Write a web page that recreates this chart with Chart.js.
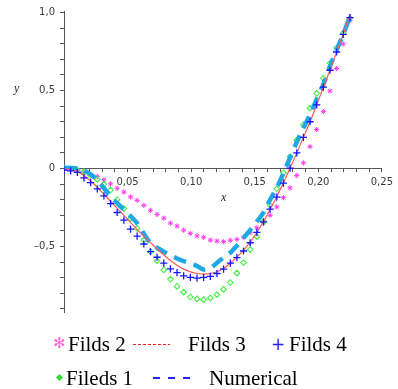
<!DOCTYPE html>
<html>
<head>
<meta charset="utf-8">
<script src="https://cdn.jsdelivr.net/npm/chart.js@4.4.1/dist/chart.umd.min.js"></script>
<style>
  body { margin: 0; background: #fff; }
  #wrap { position: relative; width: 398px; height: 389px; overflow: hidden; }
  canvas { position: absolute; left: 0; top: 0; }
  .lbl { position: absolute; font-family: "Liberation Serif", "DejaVu Serif", serif; color: #000; white-space: nowrap; }
  .leg { font-size: 21px; line-height: 21px; }
  .ax { font-style: italic; font-size: 12px; line-height: 12px; color: #222; }
</style>
</head>
<body>
<div id="wrap">
  <canvas id="chart" width="398" height="389"></canvas>
  <span class="lbl ax" style="left:14px;top:82px;">y</span>
  <span class="lbl ax" style="left:221px;top:191px;">x</span>

  <!-- legend row 1 -->
  <span class="lbl" style="left:53px;top:336px;font-size:15px;line-height:15px;color:#ff66dd;">&#x273B;</span>
  <span class="lbl leg" style="left:68px;top:334px;">Filds 2</span>
  <div style="position:absolute;left:133px;top:344px;width:37px;height:1px;background:repeating-linear-gradient(to right,#e82020 0 3px,transparent 3px 5px);"></div>
  <span class="lbl leg" style="left:188px;top:334px;">Filds 3</span>
  <span class="lbl" style="left:271px;top:336px;font-size:17px;line-height:17px;color:#2020ff;font-family:'DejaVu Sans';">+</span>
  <span class="lbl leg" style="left:289px;top:334px;">Filds 4</span>

  <!-- legend row 2 -->
  <div style="position:absolute;left:57px;top:375px;width:5px;height:5px;background:#33dd33;transform:rotate(45deg);"></div>
  <span class="lbl leg" style="left:66px;top:368px;">Fileds 1</span>
  <div style="position:absolute;left:153px;top:377px;width:38px;height:2px;background:repeating-linear-gradient(to right,#2222ff 0 7px,transparent 7px 15px);"></div>
  <span class="lbl leg" style="left:209px;top:368px;">Numerical</span>
</div>
<script>
// x positions shared by all series
const xs = [0, 0.0052, 0.0105, 0.0157, 0.0209, 0.0262, 0.0314, 0.0366, 0.0418, 0.0471,
  0.0523, 0.0575, 0.0628, 0.068, 0.0732, 0.0785, 0.0837, 0.0889, 0.0941, 0.0994,
  0.1046, 0.1098, 0.1151, 0.1203, 0.1255, 0.1308, 0.136, 0.1412, 0.1464, 0.1517,
  0.1569, 0.1621, 0.1674, 0.1726, 0.1778, 0.1831, 0.1883, 0.1935, 0.1987, 0.204,
  0.2092, 0.2144, 0.2196, 0.2249];

const filds2 = [0, -0.005, -0.015, -0.025, -0.04, -0.052, -0.072, -0.098, -0.127, -0.151,
  -0.182, -0.204, -0.236, -0.268, -0.294, -0.318, -0.35, -0.369, -0.395, -0.416,
  -0.432, -0.441, -0.459, -0.465, -0.469, -0.46, -0.454, -0.44, -0.412, -0.38,
  -0.348, -0.3, -0.246, -0.187, -0.124, -0.045, 0.036, 0.14, 0.25, 0.365,
  0.497, 0.641, 0.798, 0.95];

const filds3 = [0, -0.008, -0.02, -0.045, -0.08, -0.12, -0.165, -0.21, -0.255, -0.3,
  -0.345, -0.39, -0.435, -0.475, -0.515, -0.555, -0.59, -0.62, -0.645, -0.663,
  -0.673, -0.677, -0.674, -0.662, -0.64, -0.607, -0.568, -0.525, -0.472, -0.41,
  -0.34, -0.262, -0.18, -0.092, 0.003, 0.1, 0.2, 0.3, 0.408, 0.52,
  0.632, 0.748, 0.862, 0.99];

const filds4 = [-0.01, -0.015, -0.025, -0.06, -0.09, -0.13, -0.176, -0.225, -0.282, -0.331,
  -0.389, -0.433, -0.484, -0.533, -0.569, -0.607, -0.643, -0.667, -0.688, -0.698,
  -0.703, -0.698, -0.692, -0.673, -0.645, -0.607, -0.571, -0.529, -0.476, -0.41,
  -0.342, -0.261, -0.183, -0.094, 0.003, 0.1, 0.2, 0.3, 0.408, 0.522,
  0.63, 0.747, 0.86, 0.968];

const fileds1 = [0, -0.003, -0.01, -0.02, -0.045, -0.07, -0.1, -0.138, -0.2, -0.257,
  -0.32, -0.384, -0.459, -0.533, -0.592, -0.65, -0.709, -0.756, -0.793, -0.824,
  -0.836, -0.841, -0.83, -0.809, -0.775, -0.731, -0.671, -0.603, -0.52, -0.437,
  -0.342, -0.236, -0.13, -0.027, 0.076, 0.183, 0.28, 0.387, 0.482, 0.578,
  0.675, 0.773, 0.868, 0.965];

const numerical = [0.005, 0.004, 0.001, -0.012, -0.037, -0.075, -0.125, -0.18, -0.222, -0.265,
  -0.305, -0.35, -0.418, -0.478, -0.508, -0.533, -0.556, -0.577, -0.594, -0.606,
  -0.625, -0.648, -0.64, -0.605, -0.57, -0.54, -0.495, -0.445, -0.395, -0.34,
  -0.283, -0.2, -0.122, -0.03, 0.07, 0.17, 0.26, 0.345, 0.445, 0.54,
  0.655, 0.76, 0.86, 0.975];

const xMajorLabels = ['0,05', '0,10', '0,15', '0,20', '0,25'];
const yMajorLabels = { '-5': '\u20130,5', '0': '0', '5': '0,5', '10': '1,0' };

const toPoints = (ys) => xs.map((x, i) => ({ x: x, y: ys[i] }));

Chart.defaults.font.family = 'DejaVu Sans';
Chart.defaults.font.size = 10;
Chart.defaults.color = '#3a3a3a';

const axisColor = '#555';

new Chart(document.getElementById('chart'), {
  type: 'scatter',
  data: {
    datasets: [
      {
        label: 'Filds 4',
        data: toPoints(filds4),
        pointStyle: 'cross',
        pointRadius: 3.6,
        borderColor: '#1515ff',
        borderWidth: 1.3,
        showLine: false,
        order: 0
      },
      {
        label: 'Filds 3',
        data: toPoints(filds3),
        showLine: true,
        borderColor: '#ff5a5a',
        borderWidth: 1.2,
        pointRadius: 0,
        tension: 0.3,
        order: 1
      },
      {
        label: 'Numerical',
        data: toPoints(numerical),
        showLine: true,
        borderColor: '#1ea9e6',
        borderWidth: 4.5,
        borderDash: [13, 8],
        pointRadius: 0,
        tension: 0.3,
        order: 2
      },
      {
        label: 'Fileds 1',
        data: toPoints(fileds1),
        pointStyle: 'rectRot',
        pointRadius: 2.8,
        borderColor: '#44ee44',
        backgroundColor: 'rgba(0,0,0,0)',
        borderWidth: 1.1,
        showLine: false,
        order: 3
      },
      {
        label: 'Filds 2',
        data: toPoints(filds2),
        pointStyle: 'star',
        pointRadius: 2.6,
        borderColor: '#ff3cf0',
        borderWidth: 1,
        showLine: false,
        order: 4
      }
    ]
  },
  options: {
    responsive: false,
    animation: false,
    devicePixelRatio: 1,
    layout: { padding: { left: 0, right: 12, top: 9, bottom: 77 } },
    plugins: { legend: { display: false }, tooltip: { enabled: false } },
    scales: {
      x: {
        type: 'linear',
        min: 0,
        max: 0.25,
        position: { y: 0 },
        afterFit: (s) => { s.height = 0; },
        border: { display: true, color: axisColor, width: 1 },
        grid: { display: true, drawOnChartArea: false, drawTicks: true, tickLength: 3, color: axisColor },
        ticks: {
          stepSize: 0.01,
          autoSkip: false,
          maxRotation: 0,
          includeBounds: false,
          padding: 5,
          callback: (v) => {
            const k = Math.round(v * 100);
            return (k > 0 && k % 5 === 0) ? xMajorLabels[k / 5 - 1] : '';
          }
        }
      },
      y: {
        type: 'linear',
        min: -0.92,
        max: 1.01,
        position: 'left',
        afterFit: (s) => { s.width = 64; },
        border: { display: true, color: axisColor, width: 1 },
        grid: { display: true, drawOnChartArea: false, drawTicks: true, tickLength: 4, color: axisColor },
        ticks: {
          stepSize: 0.1,
          autoSkip: false,
          includeBounds: false,
          padding: 5,
          callback: (v) => {
            const k = Math.round(v * 10);
            return (k % 5 === 0 && yMajorLabels[k] !== undefined) ? yMajorLabels[k] : '';
          }
        }
      }
    }
  }
});
</script>
</body>
</html>
